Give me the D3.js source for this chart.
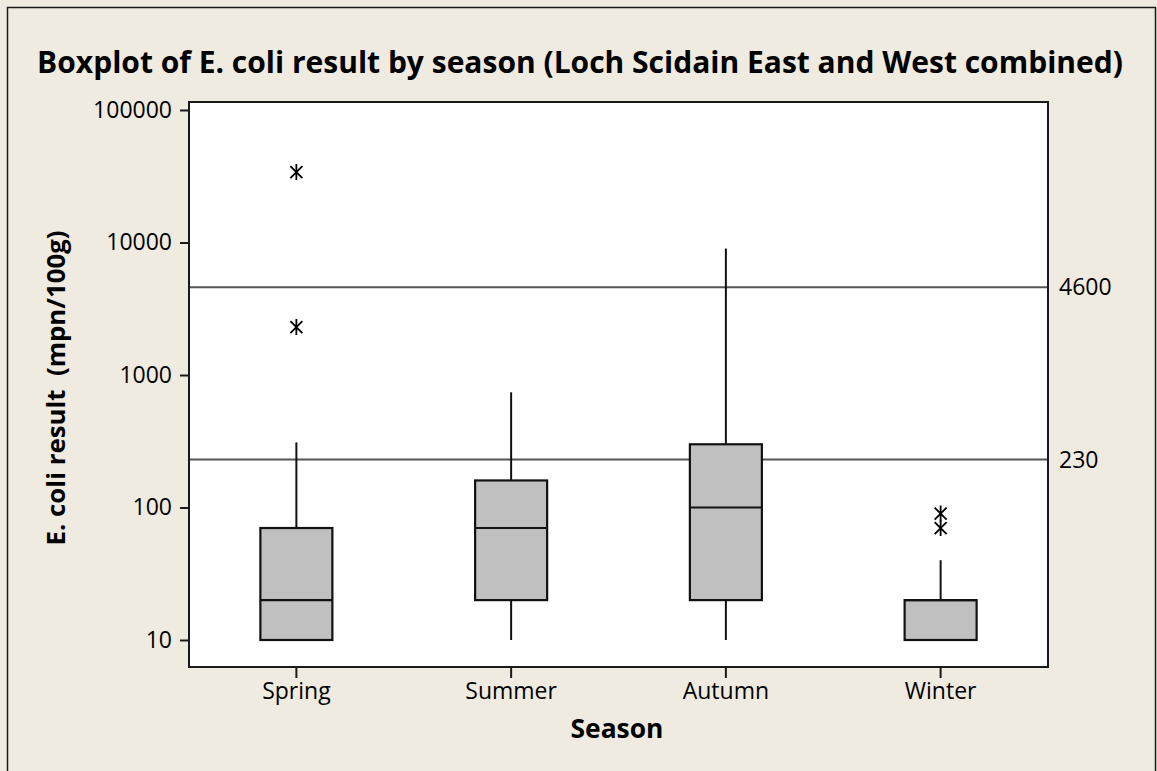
<!DOCTYPE html>
<html>
<head>
<meta charset="utf-8">
<script src="https://cdn.jsdelivr.net/npm/d3@7"></script>
<style>
  html, body { margin: 0; padding: 0; background: #EFEBE0; }
  svg { display: block; }
  text { font-family: "Open Sans", "Noto Sans", sans-serif; fill: #000; }
</style>
</head>
<body>
<svg id="chart" width="1157" height="771"></svg>
<script>
// ---- data ----
const categories = ["Spring", "Summer", "Autumn", "Winter"];
const whiskerLow = [10, 10, 10, 10];
const q1 = [10, 20, 20, 10];
const median = [20, 70, 100, 20];
const q3 = [70, 160, 300, 20];
const whiskerHigh = [310, 740, 9000, 40];
const outlierSeason = ["Spring", "Spring", "Winter", "Winter"];
const outlierValue = [34000, 2300, 90, 70];
const refLines = [4600, 230];
const yTicks = [10, 100, 1000, 10000, 100000];

const titleText = "Boxplot of E. coli result by season (Loch Scidain East and West combined)";
const yLabel = "E. coli result\u00a0\u00a0(mpn/100g)";
const xLabel = "Season";

// ---- layout ----
const W = 1157, H = 771;
const frame = { left: 189, right: 1048, top: 102, bottom: 667 };
const tickFont = "23px";

const svg = d3.select("#chart");

// background + outer border
svg.append("rect").attr("x", 0).attr("y", 0).attr("width", W).attr("height", H).attr("fill", "#EFEBE0");
svg.append("path")
  .attr("d", `M7.5,${H + 5} L7.5,7.5 L1155.5,7.5 L1155.5,${H + 5}`)
  .attr("fill", "none").attr("stroke", "#1a1a1a").attr("stroke-width", 1.5);

// scales
const x = d3.scaleBand().domain(categories).range([frame.left, frame.right]).padding(0);
const y = d3.scaleLog().domain([10, 100000]).range([640, 110]);
const boxW = 72;

// plot area
svg.append("rect")
  .attr("x", frame.left).attr("y", frame.top)
  .attr("width", frame.right - frame.left).attr("height", frame.bottom - frame.top)
  .attr("fill", "#ffffff");

// reference lines (behind boxes)
const ref = svg.append("g");
ref.selectAll("line").data(refLines).join("line")
  .attr("x1", frame.left).attr("x2", frame.right)
  .attr("y1", d => y(d)).attr("y2", d => y(d))
  .attr("stroke", "#555").attr("stroke-width", 2);
ref.selectAll("text").data(refLines).join("text")
  .attr("x", frame.right + 11).attr("y", d => y(d))
  .attr("dy", "0.35em")
  .style("font-size", tickFont)
  .text(d => d);

// boxes
const data = categories.map((c, i) => ({
  c, lo: whiskerLow[i], q1: q1[i], med: median[i], q3: q3[i], hi: whiskerHigh[i]
}));
const g = svg.append("g");
const cx = d => x(d.c) + x.bandwidth() / 2;

// whiskers
g.selectAll("line.wlo").data(data).join("line")
  .attr("x1", cx).attr("x2", cx)
  .attr("y1", d => y(d.lo)).attr("y2", d => y(d.q1))
  .attr("stroke", "#111").attr("stroke-width", 2);
g.selectAll("line.whi").data(data).join("line")
  .attr("x1", cx).attr("x2", cx)
  .attr("y1", d => y(d.hi)).attr("y2", d => y(d.q3))
  .attr("stroke", "#111").attr("stroke-width", 2);
// box
g.selectAll("rect.box").data(data).join("rect")
  .attr("x", d => cx(d) - boxW / 2)
  .attr("y", d => y(d.q3))
  .attr("width", boxW)
  .attr("height", d => Math.max(0, y(d.q1) - y(d.q3)))
  .attr("fill", "#C0C0C0").attr("stroke", "#111").attr("stroke-width", 2.2);
// median
g.selectAll("line.med").data(data).join("line")
  .attr("x1", d => cx(d) - boxW / 2).attr("x2", d => cx(d) + boxW / 2)
  .attr("y1", d => y(d.med)).attr("y2", d => y(d.med))
  .attr("stroke", "#111").attr("stroke-width", 2.2);

// outliers (asterisks)
const outliers = outlierValue.map((v, i) => ({ c: outlierSeason[i], v }));
const ast = "M0,-8L0,8M-6,-6L6,6M-6,6L6,-6";
g.selectAll("path.out").data(outliers).join("path")
  .attr("transform", d => `translate(${cx(d)},${y(d.v)})`)
  .attr("d", ast)
  .attr("fill", "none").attr("stroke", "#000").attr("stroke-width", 1.8);

// frame
svg.append("rect")
  .attr("x", frame.left).attr("y", frame.top)
  .attr("width", frame.right - frame.left).attr("height", frame.bottom - frame.top)
  .attr("fill", "none").attr("stroke", "#1a1a1a").attr("stroke-width", 2);

// y axis
const yAxis = d3.axisLeft(y).tickValues(yTicks).tickFormat(d3.format("d")).tickSize(9).tickPadding(8);
const ya = svg.append("g").attr("transform", `translate(${frame.left},0)`).call(yAxis);
ya.select(".domain").remove();
ya.selectAll(".tick line").attr("stroke", "#1a1a1a").attr("stroke-width", 2);
ya.selectAll(".tick text").style("font-family", "'Open Sans', sans-serif").style("font-size", tickFont).attr("fill", "#000");

// x axis
const xAxis = d3.axisBottom(x).tickSize(11).tickPadding(5);
const xa = svg.append("g").attr("transform", `translate(0,${frame.bottom})`).call(xAxis);
xa.select(".domain").remove();
xa.selectAll(".tick line").attr("stroke", "#1a1a1a").attr("stroke-width", 2);
xa.selectAll(".tick text").style("font-family", "'Open Sans', sans-serif").style("font-size", tickFont).attr("fill", "#000");

function fit(sel, target) {
  const w = sel.node().getComputedTextLength();
  const fs = parseFloat(sel.style("font-size"));
  sel.style("font-size", (fs * target / w).toFixed(2) + "px");
}

// title
const t = svg.append("text").attr("x", 580).attr("y", 73)
  .attr("text-anchor", "middle").style("font-weight", "bold").style("font-size", "26px")
  .text(titleText);
fit(t, 1086);

// x label
const xl = svg.append("text").attr("x", 617).attr("y", 738)
  .attr("text-anchor", "middle").style("font-weight", "bold").style("font-size", "22px")
  .text(xLabel);
fit(xl, 93);

// y label
const yl = svg.append("text")
  .attr("transform", "translate(65,388) rotate(-90)")
  .attr("text-anchor", "middle").style("font-weight", "bold").style("font-size", "22px")
  .text(yLabel);
fit(yl, 315);
</script>
</body>
</html>
